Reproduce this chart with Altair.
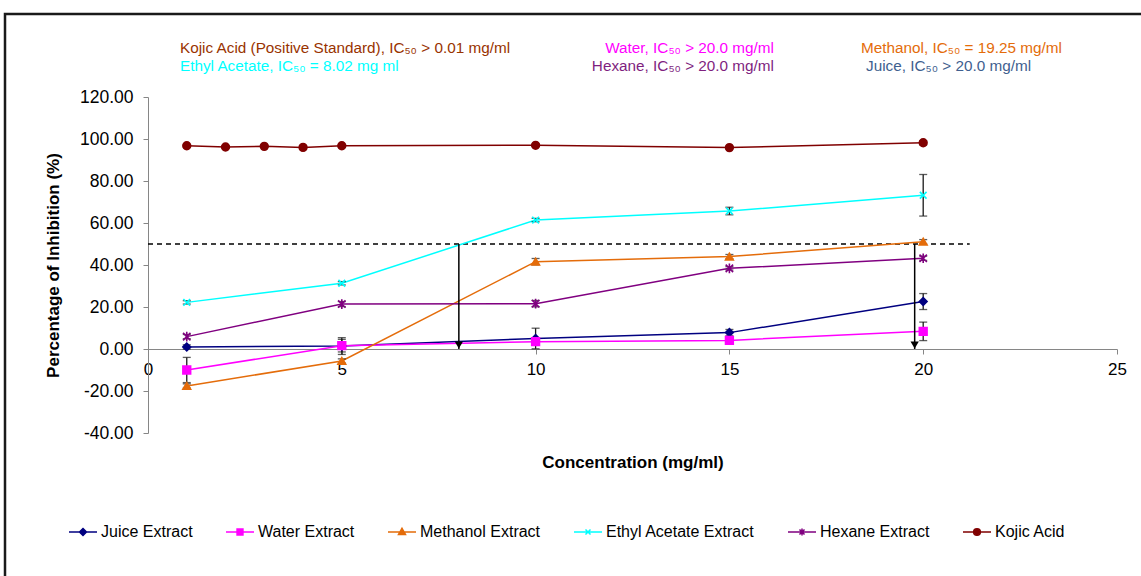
import altair as alt
import pandas as pd

FONT = "Liberation Sans"

series = ["Juice Extract", "Water Extract", "Methanol Extract",
          "Ethyl Acetate Extract", "Hexane Extract", "Kojic Acid"]
colors = ["#000080", "#FF00FF", "#E46C0A", "#00FFFF", "#800080", "#800000"]

conc = [1, 5, 10, 15, 20]
juice = [1.0, 1.4, 5.0, 7.8, 22.6]
juice_err = [1.0, 4.0, 4.9, 1.5, 3.8]
water = [-10.0, 1.6, 3.5, 4.1, 8.4]
water_err = [6.0, 3.0, 1.5, 1.5, 4.4]
methanol = [-17.6, -5.7, 41.6, 44.0, 51.1]
methanol_err = [1.0, 1.0, 1.5, 1.0, 1.0]
ethyl = [22.2, 31.3, 61.4, 65.7, 73.2]
ethyl_err = [0.8, 0.8, 0.8, 1.8, 9.9]
hexane = [5.9, 21.4, 21.6, 38.4, 43.2]
hexane_err = [1.0, 1.2, 1.5, 0.8, 1.0]
kojic_conc = [1, 2, 3, 4, 5, 10, 15, 20]
kojic = [96.8, 96.2, 96.5, 96.0, 96.8, 97.0, 95.9, 98.2]
kojic_err = [0.5, 0.4, 0.4, 0.4, 0.5, 0.5, 0.5, 1.0]

threshold = 50
threshold_end = 21.2
ic50_arrows = [8.02, 19.78]

x_ticks = [0, 5, 10, 15, 20, 25]
y_ticks = [-40, -20, 0, 20, 40, 60, 80, 100, 120]

annotations = [
    ("Kojic Acid (Positive Standard), IC\u2085\u2080 > 0.01 mg/ml", "#993300"),
    ("Ethyl Acetate, IC\u2085\u2080 = 8.02 mg ml", "#00FFFF"),
    ("Water, IC\u2085\u2080 > 20.0 mg/ml", "#FF00FF"),
    ("Hexane, IC\u2085\u2080 > 20.0 mg/ml", "#7F1F7F"),
    ("Methanol, IC\u2085\u2080 = 19.25 mg/ml", "#E46C0A"),
    ("Juice, IC\u2085\u2080 > 20.0 mg/ml", "#3F5F8F"),
]

# ---- build tables
rows = []
for name, xs, vals, errs in [
    ("Juice Extract", conc, juice, juice_err),
    ("Water Extract", conc, water, water_err),
    ("Methanol Extract", conc, methanol, methanol_err),
    ("Ethyl Acetate Extract", conc, ethyl, ethyl_err),
    ("Hexane Extract", conc, hexane, hexane_err),
    ("Kojic Acid", kojic_conc, kojic, kojic_err),
]:
    for xv, v, e in zip(xs, vals, errs):
        rows.append({"series": name, "conc": xv, "value": v, "lo": v - e, "hi": v + e})
df = pd.DataFrame(rows)

W, H = 969, 336
PAD_L, PAD_T = 148, 97

x_scale = alt.Scale(domain=[0, 25], nice=False, zero=False)
y_scale = alt.Scale(domain=[-40, 120], nice=False, zero=False)

x_axis = alt.Axis(values=x_ticks, format="d", offset=-H * 40 / 160, grid=False,
                  domainColor="#868686", tickColor="#868686", tickSize=5,
                  labelFont=FONT, labelFontSize=17, labelColor="black", labelPadding=7,
                  labelFlush=False, labelOverlap=False,
                  title="Concentration (mg/ml)", titleFont=FONT, titleFontSize=17,
                  titleFontWeight="bold", titleColor="black", titlePadding=77)
y_axis = alt.Axis(values=y_ticks, grid=False,
                  labelExpr="(datum.value < 0 ? '-' : '') + format(abs(datum.value), '.2f')",
                  domainColor="#868686", tickColor="#868686", tickSize=5,
                  labelFont=FONT, labelFontSize=17.5, labelColor="black", labelPadding=10,
                  labelOverlap=False,
                  title="Percentage of Inhibition (%)", titleFont=FONT, titleFontSize=17,
                  titleFontWeight="bold", titleColor="black", titlePadding=17)

def X(field):
    return alt.X(field, type="quantitative", scale=x_scale, axis=x_axis)

def Y(field):
    return alt.Y(field, type="quantitative", scale=y_scale, axis=y_axis)

color_scale = alt.Scale(domain=series, range=colors)

point_shapes = [
    "diamond", "square", "triangle-up",
    "M-1,-1L1,1M-1,1L1,-1",
    "M-1,-1L1,1M-1,1L1,-1M0,-1.3L0,1.3",
    "circle",
]
point_sizes = [60, 60, 60, 45, 55, 60]

legend_paths = [
    "M-1,0L1,0M0,-0.25L0.25,0L0,0.25L-0.25,0Z",
    "M-1,0L1,0M-0.21,-0.21L0.21,-0.21L0.21,0.21L-0.21,0.21Z",
    "M-1,0L1,0M0,-0.26L0.25,0.18L-0.25,0.18Z",
    "M-1,0L1,0M-0.18,-0.18L0.18,0.18M-0.18,0.18L0.18,-0.18",
    "M-1,0L1,0M-0.18,-0.18L0.18,0.18M-0.18,0.18L0.18,-0.18M0,-0.25L0,0.25",
    "M0.24,0A0.24,0.24,0,1,1,-0.24,0A0.24,0.24,0,1,1,0.24,0ZM-1,0L1,0",
]

legend = alt.Legend(
    orient="none", direction="horizontal", legendX=-80, legendY=420, title=None,
    labelFont=FONT, labelFontSize=16, labelColor="black", labelLimit=0,
    symbolSize=784, symbolStrokeWidth=1.5, columnPadding=30, labelOffset=3,
    symbolOpacity=1,
)

lines = alt.Chart(df).mark_line(strokeWidth=1.5).encode(
    x=X("conc"), y=Y("value"),
    color=alt.Color("series:N", scale=color_scale, legend=legend),
    detail="series:N",
)

# invisible layer that only feeds the legend (line + marker symbols)
legend_proxy = alt.Chart(df).transform_filter("datum.conc < -1000").mark_point(
    filled=True, strokeWidth=1.5, opacity=1
).encode(
    x=X("conc"), y=Y("value"),
    fill=alt.Fill("series:N", scale=color_scale, legend=None),
    stroke=alt.Stroke("series:N", scale=color_scale, legend=None),
    shape=alt.Shape("series:N", scale=alt.Scale(domain=series, range=legend_paths), legend=None),
)

err_rules = alt.Chart(df).mark_rule(color="#1a1a1a", strokeWidth=1.3).encode(
    x=X("conc"), y=Y("lo"), y2="hi"
)
err_lo = alt.Chart(df).mark_tick(color="#1a1a1a", thickness=1.3, size=8, orient="horizontal").encode(
    x=X("conc"), y=Y("lo")
)
err_hi = alt.Chart(df).mark_tick(color="#1a1a1a", thickness=1.3, size=8, orient="horizontal").encode(
    x=X("conc"), y=Y("hi")
)

point_layers = []
for name, col, shp, sz in zip(series, colors, point_shapes, point_sizes):
    point_layers.append(
        alt.Chart(df).transform_filter(alt.datum.series == name).mark_point(
            shape=shp, size=sz, fill=col, stroke=col, strokeWidth=1.6,
            opacity=1, fillOpacity=1, filled=True
        ).encode(x=X("conc"), y=Y("value"))
    )

thr_df = pd.DataFrame({"x0": [0], "x1": [threshold_end], "y": [threshold]})
dashed = alt.Chart(thr_df).mark_rule(color="black", strokeWidth=1.5, strokeDash=[5, 4]).encode(
    x=X("x0"), x2="x1", y=Y("y")
)

arr_df = pd.DataFrame({"x": ic50_arrows, "top": [threshold] * len(ic50_arrows), "bottom": [0] * len(ic50_arrows)})
arrows = alt.Chart(arr_df).mark_rule(color="black", strokeWidth=1.5).encode(
    x=X("x"), y=Y("top"), y2="bottom"
)
heads = alt.Chart(arr_df).mark_point(shape="triangle-down", filled=True, color="black",
                                     size=70, yOffset=-4, opacity=1).encode(
    x=X("x"), y=Y("bottom")
)

one = pd.DataFrame({"k": [0]})
ann_pos = [(32, -49, "left"), (32, -31, "left"), (626, -49, "right"),
           (626, -31, "right"), (713, -49, "left"), (718, -31, "left")]
ann_layers = []
for (txt, col), (ax, ay, al) in zip(annotations, ann_pos):
    ann_layers.append(
        alt.Chart(one).mark_text(text=txt, color=col, font=FONT, fontSize=15.3,
                                 align=al, baseline="middle").encode(
            x=alt.value(ax), y=alt.value(ay)
        )
    )

frame = alt.Chart(one).mark_rect(fillOpacity=0, stroke="#1a1a1a", strokeWidth=2.5).encode(
    x=alt.value(5 - PAD_L), y=alt.value(14 - PAD_T),
    x2=alt.value(1141 - PAD_L + 20), y2=alt.value(576 - PAD_T + 20)
)

chart = alt.layer(
    frame, dashed, lines, legend_proxy, arrows, heads, err_rules, err_lo, err_hi,
    *point_layers, *ann_layers
).properties(
    width=W, height=H,
    autosize=alt.AutoSizeParams(type="none"),
    padding={"left": PAD_L, "top": PAD_T, "right": 1141 - PAD_L - W, "bottom": 576 - PAD_T - H},
    background="white",
).configure_view(strokeWidth=0)

chart.save("out.html", embed_options={"renderer": "svg", "actions": False})
